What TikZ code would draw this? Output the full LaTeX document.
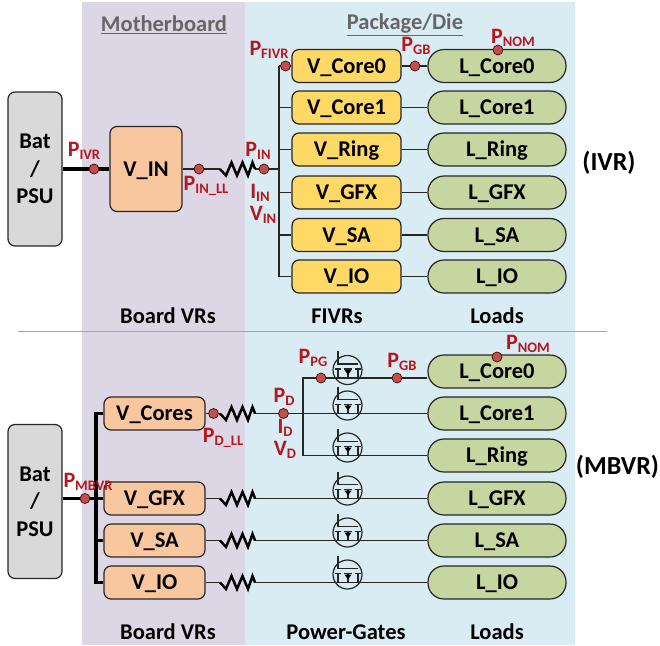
\documentclass[tikz,border=0pt]{standalone}
\usepackage{fontspec}
\setmainfont{Carlito}
\definecolor{boardbg}{HTML}{DDD7E5}
\definecolor{diebg}{HTML}{DAECF3}
\definecolor{batfill}{HTML}{D9D9D9}
\definecolor{vrfill}{HTML}{F9C79F}
\definecolor{fivrfill}{HTML}{FFD966}
\definecolor{loadfill}{HTML}{C5D6A0}
\definecolor{plabel}{HTML}{B8161E}
\definecolor{dotfill}{HTML}{C0504D}
\definecolor{sepline}{HTML}{B39C9C}
\newcommand{\pwr}[2]{{\fontsize{22}{22}\selectfont #1}\raisebox{-2.5pt}{\fontsize{14.5}{14.5}\selectfont #2}}
\tikzset{
  box/.style={draw=black!85, line width=1.2pt, rounded corners=7pt, inner sep=0pt, font=\fontsize{22.5}{22.5}\selectfont\bfseries, align=center},
  oneline/.style={text height=14pt, text depth=0pt},
  bat/.style={box, fill=batfill, minimum width=54pt, minimum height=154pt},
  vin/.style={box, oneline, fill=vrfill, minimum width=72pt, minimum height=85pt},
  fivr/.style={box, oneline, fill=fivrfill, minimum width=109pt, minimum height=33pt},
  brd/.style={box, oneline, fill=vrfill, minimum width=101pt, minimum height=33pt},
  load/.style={box, oneline, fill=loadfill, rounded corners=16pt, minimum width=138pt, minimum height=33pt},
  wire/.style={draw=black!85, line width=1.4pt},
  fatwire/.style={draw=black, line width=3.2pt},
  zig/.style={draw=black, line width=2.5pt, line join=miter},
  dot/.style={circle, draw=black!70!red, line width=0.7pt, fill=dotfill, inner sep=0pt, minimum size=10pt},
  plab/.style={text=plabel, font=\bfseries, inner sep=0pt},
  head/.style={font=\fontsize{22.5}{22.5}\selectfont\bfseries, inner sep=0pt},
  title/.style={head, text=black!60},
  tag/.style={font=\fontsize{26}{26}\selectfont\bfseries, inner sep=0pt},
  pgc/.style={circle, draw=black!85, line width=1.2pt, inner sep=0pt, minimum size=29pt}
}
\begin{document}
\begin{tikzpicture}[x=1pt, y=-1pt]
\useasboundingbox (0,0) rectangle (660,645);

% backgrounds
\fill [boardbg] (82,2) rectangle (245,645);
\fill [diebg] (245,2) rectangle (575,645);
\coordinate (sepl) at (18,331);
\coordinate (sepr) at (607,331);
\draw [sepline, line width=1pt] (sepl) -- (sepr);

\node [title] (motherboard) at (164,25) {\underline{Motherboard}};
\node [title] (package) at (405,25) {\underline{Package/Die}};

%% IVR half
\node [bat] (bat1) at (35,169) {Bat\\[5pt]/\\[5pt]PSU};
\node [vin] (vin) at (146,169) {V\_IN};

\foreach \i/\t/\y in {1/Core0/66, 2/Core1/107.5, 3/Ring/149.5, 4/GFX/192.5, 5/SA/235, 6/IO/276.5}
  {
    \node [fivr] (fv\i) at (346.5,\y) {V\_\t};
    \node [load] (fl\i) at (497,\y) {L\_\t};
    \coordinate (fbus\i) at (279,\y);
    \draw [wire] (fbus\i) -- (fv\i);
    \draw [wire] (fv\i) -- (fl\i);
  }
\draw [wire] (fbus1) -- (fbus6);

\coordinate (rin) at (220,169);
\coordinate (rout) at (255,169);
\coordinate (jin) at (279,169);
\draw [fatwire] (bat1) -- (vin);
\draw [wire] (vin) -- (rin);
\draw [wire] (rout) -- (jin);
\draw [zig] (rin) -- ++(6,6.5) -- ++(5.5,-13) -- ++(5.5,13) -- ++(5.5,-13) -- ++(5.5,13) -- ++(4.5,-13) -- (rout);

\node [dot] (divr) at (94,169) {};
\node [dot] (dinll) at (199,169) {};
\node [dot] (din) at (264,169) {};
\node [dot] (dfivr) at (285.5,66) {};
\node [dot] (dgb1) at (415,66) {};
\node [dot] (dnom1) at (498,50) {};

\node [plab] (pivr) at (84,151) {\pwr{P}{IVR}};
\node [plab] (pinll) at (206,186) {\pwr{P}{IN\_LL}};
\node [plab] (pin) at (258,151) {\pwr{P}{IN}};
\node [plab] (iin) at (260,193) {\pwr{I}{IN}};
\node [plab] (vinl) at (263,215) {\pwr{V}{IN}};
\node [plab] (pfivr) at (269,50) {\pwr{P}{FIVR}};
\node [plab] (pgb1) at (416,46) {\pwr{P}{GB}};
\node [plab] (pnom1) at (513,38) {\pwr{P}{NOM}};

\node [head] (vrs1) at (168,316) {Board VRs};
\node [head] (fivrs) at (337,316) {FIVRs};
\node [head] (loads1) at (497,316) {Loads};
\node [tag] (ivr) at (609,163) {(IVR)};

%% MBVR half
\node [bat] (bat2) at (35,501.5) {Bat\\[5pt]/\\[5pt]PSU};

\foreach \i/\t/\y/\g in {1/Core0/371.5/378, 2/Core1/413.5/413.5, 3/Ring/455.5/455.5, 4/GFX/498.5/498.5, 5/SA/540.5/540.5, 6/IO/582.5/582.5}
  {
    \node [load] (ml\i) at (497,\y) {L\_\t};
    \node [pgc] (pg\i) at (347.5,\g-8) {};
    \draw [wire] (pg\i.center) ++(-9.5,-19) -- ++(0,13) -- ++(20,0);
    \draw [wire] (pg\i.center) ++(-13,-1) -- ++(6,0) ++(3,0) -- ++(8,0) ++(3,0) -- ++(6,0);
    \draw [wire] (pg\i.center) ++(-9.5,-1) -- ++(0,9) (pg\i.center) ++(10.5,-1) -- ++(0,9) (pg\i.center) ++(0.5,-1) -- ++(0,9);
    \fill [black] (pg\i.center) ++(-3,0) -- ++(7,0) -- ++(-3.5,5) -- cycle;
  }

\node [brd] (vcores) at (154.5,413.5) {V\_Cores};
\foreach \i/\t/\y in {4/GFX/498.5, 5/SA/540.5, 6/IO/582.5}
  {
    \node [brd] (mv\i) at (154.5,\y) {V\_\t};
    \coordinate (rl\i) at (220,\y);
    \coordinate (rr\i) at (255,\y);
    \draw [wire] (mv\i) -- (rl\i);
    \draw [wire] (rr\i) -- (ml\i);
    \draw [zig] (rl\i) -- ++(6,6.5) -- ++(5.5,-13) -- ++(5.5,13) -- ++(5.5,-13) -- ++(5.5,13) -- ++(4.5,-13) -- (rr\i);
  }
\coordinate (rl2) at (220,413.5);
\coordinate (rr2) at (255,413.5);
\draw [wire] (vcores) -- (rl2);
\draw [wire] (rr2) -- (ml2);
\draw [zig] (rl2) -- ++(6,6.5) -- ++(5.5,-13) -- ++(5.5,13) -- ++(5.5,-13) -- ++(5.5,13) -- ++(4.5,-13) -- (rr2);

% gated branch off the core rail
\coordinate (gtop) at (303,378);
\coordinate (gbot) at (303,455.5);
\draw [wire] (ml1.west |- gtop) -- (gtop) -- (gbot) -- (ml3);

% board rail
\coordinate (mbus) at (96,498.5);
\coordinate (mtop) at (96,413.5);
\coordinate (mbot) at (96,582.5);
\draw [fatwire] (bat2.east |- mbus) -- (mv4);
\draw [fatwire] (vcores) -- (mtop) -- (mbot) -- (mv6);
\draw [fatwire] (mv5) -- (mv5 -| mbus);

\node [dot] (dmbvr) at (85,498.5) {};
\node [dot] (ddll) at (213.5,413.5) {};
\node [dot] (dd) at (283.5,413.5) {};
\node [dot] (dpg) at (321,378) {};
\node [dot] (dgb2) at (397,378) {};
\node [dot] (dnom2) at (497,357) {};

\node [plab] (pmbvr) at (88,482) {\pwr{P}{MBVR}};
\node [plab] (pdll) at (223,438) {\pwr{P}{D\_LL}};
\node [plab] (pd) at (284,397) {\pwr{P}{D}};
\node [plab] (idl) at (285,428) {\pwr{I}{D}};
\node [plab] (vdl) at (285,450) {\pwr{V}{D}};
\node [plab] (ppg) at (313,358) {\pwr{P}{PG}};
\node [plab] (pgb2) at (402,362) {\pwr{P}{GB}};
\node [plab] (pnom2) at (528,344) {\pwr{P}{NOM}};

\node [head] (vrs2) at (168,632) {Board VRs};
\node [head] (pgates) at (346,632) {Power-Gates};
\node [head] (loads2) at (497,632) {Loads};
\node [tag] (mbvr) at (617.5,467) {(MBVR)};

\end{tikzpicture}
\end{document}
